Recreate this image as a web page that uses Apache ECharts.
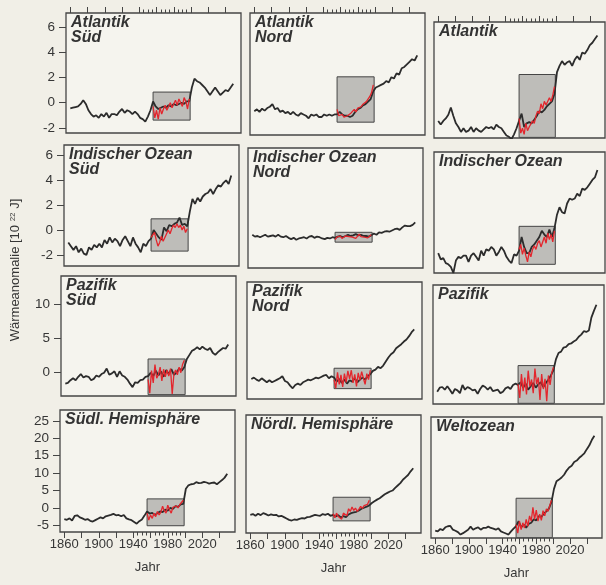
<!DOCTYPE html>
<html>
<head>
<meta charset="utf-8">
<script src="https://cdn.jsdelivr.net/npm/echarts@6/dist/echarts.min.js"></script>
<style>
html, body { margin: 0; padding: 0; background: #f1efe7; }
#chart { width: 606px; height: 585px; }
</style>
</head>
<body>
<div id="chart"></div>
<script>
// model run 1860..2049, one value every 3 years; observations 1956..1998 every 2 years
var modelStart = 1860, modelStep = 3;
var obsStart = 1956, obsStep = 2;
var boxYears = [1956, 1999];

var panelTitles = ['Atlantik\nSüd', 'Atlantik\nNord', 'Atlantik',
  'Indischer Ozean\nSüd', 'Indischer Ozean\nNord', 'Indischer Ozean',
  'Pazifik\nSüd', 'Pazifik\nNord', 'Pazifik',
  'Südl. Hemisphäre', 'Nördl. Hemisphäre', 'Weltozean'];

var rowRanges = [[-2.4, 7.1], [-2.9, 6.85], [-3.4, 14.1], [-6.9, 28.1]];
var rowTicks = [[-2, 0, 2, 4, 6], [-2, 0, 2, 4, 6], [0, 5, 10], [-5, 0, 5, 10, 15, 20, 25]];
var majorYears = [1860, 1880, 1900, 1920, 1940, 1960, 1980, 2000, 2020, 2040];
var minorYears = [1945, 1950, 1955, 1965, 1970, 1975, 1985, 1990, 1995];
var labelYears = [1860, 1900, 1940, 1980, 2020];

var atlantikSued = [-0.45, -0.4, -0.35, -0.3, -0.1, 0.2, -0.1, -0.6, -0.9, -1.1,
  -1.0, -1.2, -0.9, -1.1, -0.8, -1.2, -0.9, -0.9, -1.0, -0.7,
  -0.5, -0.8, -0.6, -0.7, -0.9, -0.7, -0.9, -1.2, -1.3, -1.5,
  -1.1, -0.6, 0.1, -0.3, -0.5, -0.4, -0.3, -0.4, -0.2, -0.3,
  -0.1, -0.2, -0.1, 0.0, -0.1, 0.1, 0.1, 1.2, 1.9, 1.7,
  1.6, 1.4, 1.2, 0.9, 0.6, 0.9, 1.2, 0.9, 0.6, 0.8,
  1.0, 0.9, 1.2, 1.5];
var atlantikSuedObs = [-0.3, -1.2, -0.6, -1.3, -0.4, -0.9, -0.5, -0.2, -0.6, -0.3, 0.0, -0.4, -0.1, 0.2, -0.2, 0.3, 0.0, -0.3, 0.4, 0.1, -0.5, 0.3];
var atlantikSuedBox = [-1.38, 0.84];

var atlantikNord = [-0.55, -0.4, -0.6, -0.35, -0.5, -0.3, -0.2, 0.0, -0.4, -0.3,
  -0.6, -0.5, -0.7, -0.6, -0.8, -0.6, -0.8, -0.9, -0.7, -0.8,
  -0.9, -1.1, -0.8, -0.9, -0.8, -1.0, -1.0, -0.8, -0.9, -0.8,
  -0.9, -0.8, -0.8, -0.6, -0.8, -0.9, -0.9, -1.0, -0.9, -0.6,
  -0.4, -0.3, -0.1, 0.0, 0.2, 0.4, 1.0, 1.3, 1.4, 1.5,
  1.6, 1.8, 1.7, 2.1, 2.0, 2.4, 2.3, 2.8, 2.9, 3.1,
  3.3, 3.5, 3.4, 3.8];
var atlantikNordObs = [-0.4, -0.9, -1.0, -0.8, -1.0, -0.9, -0.9, -1.0, -0.7, -0.8, -0.4, -0.6, -0.3, -0.4, -0.2, 0.0, -0.1, 0.2, 0.3, 0.6, 0.9, 1.5];
var atlantikNordBox = [-1.4, 2.13];

var atlantik = [-1.0, -1.3, -1.0, -0.8, -0.5, 0.1, -0.6, -1.2, -1.5, -1.9,
  -1.6, -1.9, -1.8, -1.5, -1.9, -1.6, -1.8, -1.9, -1.7, -1.5,
  -1.6, -1.5, -1.7, -1.3, -1.5, -1.6, -1.9, -2.2, -2.3, -2.5,
  -2.1, -1.6, -1.0, -0.4, -1.5, -1.2, -1.1, -1.2, -0.9, -0.6,
  -0.2, -0.3, -0.1, 0.2, 0.4, 0.6, 1.2, 3.0, 3.5, 3.9,
  3.6, 3.8, 3.9, 3.5, 4.0, 4.3, 4.0, 4.6, 4.5, 4.8,
  5.2, 5.4, 5.7, 6.0];
var atlantikObs = [-0.8, -2.0, -1.6, -2.1, -1.2, -1.8, -1.5, -1.6, -1.0, -1.2, -0.6, -0.2, -0.4, 0.4, 0.0, 0.6, 0.3, 0.4, 0.9, 0.6, 1.1, 1.8];
var atlantikBox = [-2.35, 2.8];

var indikSued = [-1.0, -1.3, -1.6, -1.3, -1.8, -1.5, -1.9, -2.0, -1.4, -1.6,
  -1.2, -1.4, -1.1, -1.4, -0.8, -1.1, -0.6, -1.0, -0.7, -0.9,
  -1.3, -0.8, -0.5, -0.9, -1.3, -0.6, -1.1, -1.4, -1.8, -1.1,
  -1.3, -0.9, -0.7, 0.0, -0.3, -0.6, -0.8, 0.2, -0.1, 0.4,
  0.3, 0.5, 0.6, 1.0, 0.4, 0.5, 0.3, 1.5, 2.5, 2.1,
  2.6, 2.3, 2.7, 2.9, 3.0, 3.3, 2.9, 3.3, 3.6, 3.5,
  3.8, 4.0, 3.7, 4.4];
var indikSuedObs = [-0.6, -0.4, -0.2, -0.8, -1.3, -1.0, -0.5, -0.9, -0.6, -0.3, 0.0, -0.3, 0.1, 0.4, 0.2, 0.5, 0.2, 0.4, 0.0, 0.3, -0.2, 0.1];
var indikSuedBox = [-1.7, 0.9];

var indikNord = [-0.2, -0.35, -0.3, -0.4, -0.3, -0.2, -0.35, -0.3, -0.25, -0.35,
  -0.2, -0.35, -0.4, -0.3, -0.45, -0.55, -0.45, -0.6, -0.5, -0.45,
  -0.4, -0.5, -0.35, -0.3, -0.45, -0.35, -0.4, -0.5, -0.55, -0.45,
  -0.5, -0.4, -0.45, -0.35, -0.3, -0.4, -0.3, -0.2, -0.3, -0.25,
  -0.15, -0.25, -0.2, -0.3, -0.3, -0.35, -0.25, -0.1, -0.2, 0.0,
  -0.05, 0.05, 0.1, 0.05, 0.15, 0.25, 0.3, 0.2, 0.4, 0.55,
  0.5, 0.5, 0.6, 0.8];
var indikNordObs = [-0.6, -0.4, -0.5, -0.3, -0.5, -0.45, -0.3, -0.45, -0.35, -0.5, -0.4, -0.3, -0.5, -0.35, -0.15, -0.35, -0.2, -0.4, -0.3, -0.45, -0.3, -0.2];
var indikNordBox = [-0.8, 0.0];

var indik = [-1.3, -1.8, -1.7, -2.1, -2.2, -2.4, -2.9, -1.9, -1.6, -1.7,
  -1.5, -1.5, -2.0, -1.5, -1.3, -1.6, -1.9, -1.1, -1.5, -1.0,
  -1.1, -0.8, -1.0, -1.5, -1.2, -0.8, -1.1, -1.6, -1.9, -2.1,
  -1.4, -1.5, -1.1, 0.0, -0.8, -1.3, -1.3, -0.8, -0.6, -0.3,
  0.0, 0.5, 0.2, 0.0, 0.6, 0.0, 0.7, 1.8, 2.4, 2.0,
  1.9, 2.7, 3.1, 3.0, 3.1, 3.5, 3.3, 3.9, 3.8, 4.0,
  4.3, 4.6, 4.8, 5.4];
var indikObs = [-1.0, -0.6, -1.4, -0.9, -1.5, -2.0, -1.2, -1.6, -1.0, -0.7, -1.0, -0.5, -0.3, -0.8, -0.4, 0.0, -0.5, 0.3, -0.2, 0.2, -0.4, 0.5];
var indikBox = [-2.2, 0.86];

var pazifikSued = [-1.6, -1.5, -1.1, -0.8, -1.1, -0.6, -0.2, -0.7, -0.5, -0.6,
  -1.1, -0.9, -0.4, -0.6, -0.2, 0.0, 0.6, -0.3, -0.1, 0.2,
  -0.6, 0.2, -0.4, -0.6, -1.0, -1.6, -2.1, -1.4, -1.5, -1.1,
  -1.0, -0.6, -0.5, 0.0, -0.5, 0.3, -0.4, 0.2, -0.6, 0.4,
  -0.2, 0.5, -0.3, 0.0, 0.6, 0.3, 0.8, 2.0, 2.6, 3.2,
  3.4, 3.7, 3.4, 3.8, 3.5, 3.3, 3.6, 2.9, 2.6, 3.0,
  3.3, 3.6, 3.5, 4.1];
var pazifikSuedObs = [-1.0, -3.0, 0.3, -1.5, 1.2, -0.8, -0.3, 0.8, -1.2, 0.5, -0.6, 0.4, -0.5, 0.6, -3.1, -0.2, 0.4, -0.3, 0.8, 0.0, 1.2, 1.8];
var pazifikSuedBox = [-3.2, 2.0];

var pazifikNord = [-0.4, -0.2, -0.5, -0.7, -0.3, -0.6, -0.9, -0.6, -0.9, -0.7,
  -0.5, -0.3, 0.0, -0.7, -0.9, -1.4, -1.8, -1.3, -1.1, -1.3,
  -0.9, -0.7, -0.5, -0.6, -0.4, -0.2, -0.3, -0.1, 0.1, 0.2,
  -0.3, 0.0, -0.2, -0.8, -0.4, -1.0, -0.5, -1.1, -0.6, -0.8,
  -0.3, -0.9, -0.5, -0.2, -0.5, 0.0, 0.3, 0.8, 1.0, 1.4,
  1.2, 1.6, 2.2, 2.8, 3.3, 3.6, 4.2, 4.5, 4.8, 5.2,
  5.5, 6.0, 6.6, 7.0];
var pazifikNordObs = [-0.5, -1.8, 0.6, -1.2, 0.2, -1.6, 0.4, -0.9, 0.8, -0.4, 0.9, -1.0, 0.3, -1.5, 0.5, -0.6, 0.7, -0.3, -1.2, 0.4, -0.5, 0.9];
var pazifikNordBox = [-1.85, 1.2];

var pazifik = [-1.6, -1.0, -0.9, -1.3, -0.8, -1.3, -1.9, -1.2, -1.4, -1.8,
  -0.6, -1.3, -0.9, -1.1, -1.4, -1.3, -1.9, -1.2, -0.7, -0.9,
  -1.3, -0.9, -1.5, -1.4, -1.3, -1.8, -1.6, -1.1, -0.9, -1.2,
  -0.6, -0.4, -0.6, -0.2, -1.0, -0.4, -1.3, -0.8, -0.3, -1.0,
  -0.5, -0.2, -0.9, -0.3, 0.2, 0.8, 1.6, 3.2, 4.1, 4.3,
  4.9, 5.0, 5.4, 5.5, 5.8, 6.0, 6.5, 6.8, 7.3, 7.2,
  7.4, 9.3, 10.3, 11.2];
var pazifikObs = [-0.5, -2.5, 1.0, -1.5, 0.5, -2.0, 1.5, -0.8, 0.2, -1.8, 1.8, -0.5, 0.5, -2.8, 1.0, -1.2, 0.3, -3.0, 0.8, -0.6, 1.2, 2.0];
var pazifikBox = [-3.3, 2.25];

var suedHemi = [-3.2, -3.4, -3.0, -3.6, -2.3, -2.1, -2.7, -3.0, -3.4, -3.2,
  -3.7, -3.9, -3.5, -3.1, -2.7, -3.0, -2.4, -2.2, -2.0, -1.7,
  -2.1, -2.0, -2.4, -2.0, -3.0, -3.3, -3.5, -4.0, -4.5, -3.8,
  -3.3, -2.2, -1.0, -1.6, -1.4, -2.0, -1.5, -1.0, -1.2, -0.5,
  -0.8, 0.0, -0.3, 0.5, 0.3, 1.0, 1.2, 5.5, 6.5, 6.8,
  6.9, 7.4, 7.1, 7.2, 7.5, 7.3, 7.0, 7.2, 7.3, 6.8,
  7.4, 8.0, 8.7, 9.8];
var suedHemiObs = [-1.5, -3.5, -2.0, -3.0, -1.5, -2.5, -1.0, -2.0, -1.2, 0.5, -0.8, -1.5, 0.8, -0.5, -1.5, 0.2, -0.3, 0.6, 0.0, 1.0, 1.5, 2.2];
var suedHemiBox = [-5.1, 2.6];

var nordHemi = [-1.5, -1.3, -1.8, -1.2, -1.6, -1.0, -1.3, -1.7, -1.4, -1.6,
  -1.5, -2.0, -1.8, -2.2, -2.6, -3.0, -3.2, -2.9, -3.0, -2.7,
  -2.5, -2.6, -2.2, -2.1, -1.8, -1.5, -1.7, -1.8, -1.3, -1.5,
  -1.2, -1.8, -1.5, -2.0, -1.6, -2.3, -1.9, -2.2, -1.4, -1.0,
  -0.8, -0.6, -0.2, 0.3, 0.6, 0.9, 1.3, 2.0, 2.5, 3.0,
  3.4, 4.0, 4.6, 5.0, 5.4, 5.7, 6.5, 7.2, 7.9, 8.9,
  9.6, 10.3, 11.4, 12.3];
var nordHemiObs = [-1.2, -2.4, -1.0, -2.0, -1.5, -2.8, -1.0, -0.5, -1.8, 0.3, -0.5, 0.8, -0.2, 0.5, -0.5, 0.2, 1.0, 0.4, 1.2, 0.8, 1.6, 2.8];
var nordHemiBox = [-3.3, 3.7];

var weltozean = [-4.8, -5.0, -4.3, -4.6, -3.8, -3.5, -3.4, -4.5, -4.8, -5.2,
  -5.9, -5.5, -5.0, -4.5, -3.6, -4.5, -4.1, -3.8, -4.5, -4.0,
  -4.0, -3.6, -4.0, -4.2, -4.5, -4.1, -5.0, -5.3, -5.6, -5.9,
  -5.0, -4.2, -3.5, -2.0, -3.8, -3.0, -3.9, -2.8, -2.5, -1.5,
  -1.8, -0.6, -0.8, 0.2, 0.8, 1.6, 3.5, 7.3, 9.5, 10.0,
  10.6, 11.4, 12.6, 13.5, 14.0, 15.1, 15.5, 16.3, 16.9, 17.6,
  18.8, 19.9, 21.5, 22.7];
var weltozeanObs = [-3.0, -5.5, -2.0, -4.5, -2.5, -4.0, -1.5, -3.5, -0.5, -2.0, 2.0, -1.5, 1.2, -2.0, 0.0, -1.8, 1.0, -0.5, 1.5, 0.8, 2.5, 4.0];
var weltozeanBox = [-6.8, 4.6];

var modelSeries = [atlantikSued, atlantikNord, atlantik, indikSued, indikNord, indik,
  pazifikSued, pazifikNord, pazifik, suedHemi, nordHemi, weltozean];
var obsSeries = [atlantikSuedObs, atlantikNordObs, atlantikObs, indikSuedObs, indikNordObs, indikObs,
  pazifikSuedObs, pazifikNordObs, pazifikObs, suedHemiObs, nordHemiObs, weltozeanObs];
var obsBoxes = [atlantikSuedBox, atlantikNordBox, atlantikBox, indikSuedBox, indikNordBox, indikBox,
  pazifikSuedBox, pazifikNordBox, pazifikBox, suedHemiBox, nordHemiBox, weltozeanBox];

// layout of the scanned page (slightly tilted), per row then column
var gridLeft = [[66, 250, 434], [64, 248, 434], [61, 247, 433], [60, 246, 431]];
var gridTop = [[13, 13, 22], [145, 148, 152], [276, 282, 285], [410, 415, 417]];
var gridHeight = [[120, 122, 116], [121, 120, 121], [120, 117, 119], [122, 118, 121]];
var gridWidth = [175, 175, 171];

var fontFam = '"Liberation Sans", Arial, sans-serif';
var textCol = '#363636';
var lineCol = '#454545';

function toPairs(start, step, vals) {
  var out = [];
  for (var i = 0; i < vals.length; i++) out.push([start + i * step, vals[i]]);
  return out;
}

var grids = [], xAxes = [], yAxes = [], series = [], titles = [];
for (var r = 0; r < 4; r++) {
  for (var c = 0; c < 3; c++) {
    var g = r * 3 + c;
    grids.push({
      left: gridLeft[r][c], top: gridTop[r][c],
      width: gridWidth[c], height: gridHeight[r][c],
      show: true, backgroundColor: '#f5f4ee',
      borderColor: lineCol, borderWidth: 1.3
    });
    var showX = (r === 0 || r === 3);
    var pos = r === 0 ? 'top' : 'bottom';
    xAxes.push({
      gridIndex: g, type: 'value', min: 1855, max: 2058, position: pos, show: showX,
      axisLine: { show: false, onZero: false }, splitLine: { show: false },
      axisTick: { show: true, length: 6, customValues: majorYears, lineStyle: { color: lineCol, width: 1 } },
      axisLabel: { show: r === 3, customValues: labelYears, fontSize: 13, color: textCol, margin: 6,
        fontFamily: fontFam, formatter: function (v) { return String(v); } },
      name: r === 3 ? 'Jahr' : '', nameLocation: 'middle', nameGap: 29,
      nameTextStyle: { fontSize: 13, color: textCol, fontFamily: fontFam }
    });
    xAxes.push({
      gridIndex: g, type: 'value', min: 1855, max: 2058, position: pos, show: showX,
      axisLine: { show: false, onZero: false }, splitLine: { show: false },
      axisTick: { show: true, length: 3.5, customValues: minorYears, lineStyle: { color: lineCol, width: 1 } },
      axisLabel: { show: false }
    });
    yAxes.push({
      gridIndex: g, type: 'value', min: rowRanges[r][0], max: rowRanges[r][1], show: c === 0,
      axisLine: { show: false, onZero: false }, splitLine: { show: false },
      axisTick: { show: true, length: 7, customValues: rowTicks[r], lineStyle: { color: lineCol, width: 1 } },
      axisLabel: { customValues: rowTicks[r], fontSize: 13.5, color: textCol, margin: 11, fontFamily: fontFam }
    });
    var box = obsBoxes[g];
    series.push({
      type: 'line', xAxisIndex: g * 2, yAxisIndex: g, data: [], silent: true, z: 1,
      markArea: {
        silent: true,
        itemStyle: { color: '#bebdb9', borderColor: lineCol, borderWidth: 1 },
        data: [[{ coord: [boxYears[0], box[0]] }, { coord: [boxYears[1], box[1]] }]]
      }
    });
    series.push({
      type: 'line', xAxisIndex: g * 2, yAxisIndex: g, z: 3,
      data: toPairs(modelStart, modelStep, modelSeries[g]),
      showSymbol: false, silent: true,
      lineStyle: { color: '#2c2c2c', width: 1.8 }
    });
    series.push({
      type: 'line', xAxisIndex: g * 2, yAxisIndex: g, z: 4,
      data: toPairs(obsStart, obsStep, obsSeries[g]),
      showSymbol: false, silent: true,
      lineStyle: { color: '#e3262d', width: 1.3 }
    });
    titles.push({
      text: panelTitles[g],
      left: gridLeft[r][c] + 5, top: gridTop[r][c] + 2, padding: 0,
      textStyle: { fontSize: 16, fontWeight: 'bold', fontStyle: 'italic', color: '#333',
        fontFamily: fontFam, lineHeight: 15 }
    });
  }
}

var chart = echarts.init(document.getElementById('chart'));
chart.setOption({
  animation: false,
  backgroundColor: '#f1efe7',
  title: titles,
  grid: grids,
  xAxis: xAxes,
  yAxis: yAxes,
  series: series,
  graphic: [{
    type: 'text', x: 15, y: 270, rotation: Math.PI / 2,
    style: {
      text: '{a|Wärmeanomalie [10 }{s|22}{a| J]}',
      align: 'center', verticalAlign: 'middle',
      rich: {
        a: { fontSize: 13, fill: textCol, fontFamily: fontFam },
        s: { fontSize: 8, fill: textCol, fontFamily: fontFam, verticalAlign: 'top', padding: [0, 0, 5, 0] }
      }
    }
  }]
});
</script>
</body>
</html>
